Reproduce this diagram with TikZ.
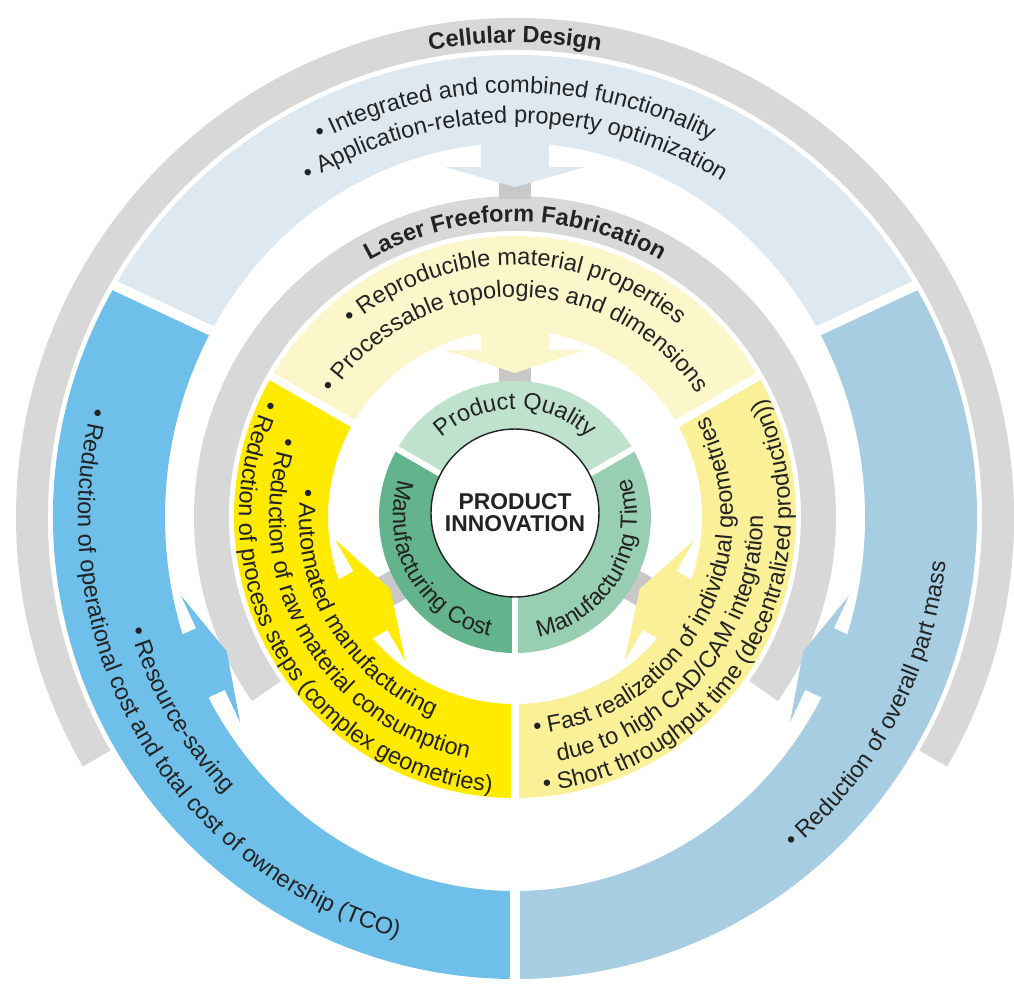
\documentclass[tikz,border=0pt]{standalone}
\usepackage{fontspec}
\setsansfont{Liberation Sans}
\usetikzlibrary{decorations.text}

\definecolor{ringgray}{RGB}{216,216,216}
\definecolor{stemgray}{RGB}{200,200,200}
\definecolor{cellblue}{RGB}{221,232,241}
\definecolor{costblue}{RGB}{110,191,233}
\definecolor{massblue}{RGB}{166,205,226}
\definecolor{paleyellow}{RGB}{252,246,203}
\definecolor{costyellow}{RGB}{255,234,0}
\definecolor{timeyellow}{RGB}{250,240,152}
\definecolor{qualgreen}{RGB}{191,226,206}
\definecolor{costgreen}{RGB}{99,180,141}
\definecolor{timegreen}{RGB}{152,207,178}
\definecolor{inktext}{RGB}{35,35,35}

\newcommand{\ringfont}{\sffamily\fontsize{13.4}{16}\selectfont}
\newcommand{\ringbold}{\sffamily\bfseries\fontsize{13.4}{16}\selectfont}

% #1 colour, #2 from, #3 to, #4 outer radius, #5 inner radius
\newcommand{\ringsector}[5]{%
  \fill[#1] (#2:#4) arc[start angle=#2, end angle=#3, radius=#4]
    -- (#3:#5) arc[start angle=#3, end angle=#2, radius=#5] -- cycle;}
% outer band, its inner edge is a flat oval
\newcommand{\ovalsector}[3]{%
  \fill[#1] (#2:462) arc[start angle=#2, end angle=#3, radius=462]
    -- (#3:350 and 374) arc[start angle=#3, end angle=#2, x radius=350, y radius=374] -- cycle;}

\tikzset{
  every node/.style={font=\sffamily},
  gap line/.style={white, line width=#1},
  hub/.style={circle, draw=inktext, fill=white, line width=0.8pt, inner sep=0pt,
    minimum size=3.36cm, align=center, text=inktext,
    font=\sffamily\bfseries\fontsize{13}{12.5}\selectfont},
  ring text/.style={decorate, decoration={text along path, text align=center,
      text color=inktext, text={|\ringfont|#1}}},
  ring title/.style={decorate, decoration={text along path, text align=center,
      text color=inktext, text={|\ringbold|#1}}},
  ring text left/.style={decorate, decoration={text along path, text align=left,
      text color=inktext, text={|\ringfont|#1}}}
}

\begin{document}
\begin{tikzpicture}[x=0.02cm, y=0.02cm]
  \useasboundingbox (-515,-468) rectangle (499,517);

  \ringsector{ringgray}{-30}{210}{499}{467}
  \ringsector{ringgray}{-35}{215}{321}{286}

  \ovalsector{cellblue}{30}{150}
  \ovalsector{costblue}{150}{270}
  \ovalsector{massblue}{270}{390}

  \ringsector{paleyellow}{30}{150}{281}{187}
  \ringsector{costyellow}{150}{270}{281}{187}
  \ringsector{timeyellow}{270}{390}{281}{187}

  \foreach \a/\r in {90/318, 90/130, 210/130, 330/130}
    \fill[stemgray, rotate=\a] (\r,-16) -- (\r+22,-16) -- (\r+22,16) -- (\r,16) -- cycle;

  \ringsector{qualgreen}{30}{150}{136}{80}
  \ringsector{costgreen}{150}{270}{136}{80}
  \ringsector{timegreen}{270}{390}{136}{80}

  \foreach \a in {30,150,270} {
    \draw[gap line=0.2cm] (\a:465) -- (\a:340 and 364);
    \draw[gap line=0.16cm] (\a:183) -- (\a:284);
    \draw[gap line=0.12cm] (\a:78) -- (\a:139);
  }

  \foreach \a/\rt/\rb/\rp/\c in {90/380/350/330/cellblue, 205/362/336/318/costblue,
      335/362/336/318/massblue, 90/195/167/144/paleyellow,
      210/195/167/144/costyellow, 330/195/167/144/timeyellow}
    \fill[\c, rotate=\a] (\rt,34) -- (\rb,34) -- (\rb,70) -- (\rp,0)
      -- (\rb,-70) -- (\rb,-34) -- (\rt,-34) -- cycle;

  \node[hub] (core) at (0,4) {PRODUCT\\INNOVATION};

  % top sectors, read left to right
  \path[ring title={Cellular Design}] (150:474) arc[start angle=150, end angle=30, radius=474];
  \path[ring text={• Integrated and combined functionality}] (150:424) arc[start angle=150, end angle=30, radius=424];
  \path[ring text={• Application-related property optimization}] (150:394) arc[start angle=150, end angle=30, radius=394];
  \path[ring title={Laser Freeform Fabrication}] (150:295) arc[start angle=150, end angle=30, radius=295];
  \path[ring text={• Reproducible material properties}] (150:252) arc[start angle=150, end angle=30, radius=252];
  \path[ring text={• Processable topologies and dimensions}] (150:220) arc[start angle=150, end angle=30, radius=220];
  \path[ring text={Product Quality}] (150:108) arc[start angle=150, end angle=30, radius=108];

  % left sectors, read downwards
  \path[ring text={• Reduction of operational cost and total cost of ownership (TCO)}] (150:437) arc[start angle=150, end angle=270, radius=437];
  \path[ring text={• Resource-saving}] (150:401) arc[start angle=150, end angle=270, radius=401];
  \path[ring text={• Reduction of process steps (complex geometries)}] (150:276) arc[start angle=150, end angle=270, radius=276];
  \path[ring text={• Reduction of raw material consumption}] (150:246) arc[start angle=150, end angle=270, radius=246];
  \path[ring text={• Automated manufacturing}] (150:216) arc[start angle=150, end angle=270, radius=216];
  \path[ring text={Manufacturing Cost}] (150:122) arc[start angle=150, end angle=270, radius=122];

  % right sectors, read upwards
  \path[ring text={• Reduction of overall part mass}] (272:433) arc[start angle=272, end angle=392, radius=433];
  \path[ring text left={• Short throughput time (decentralized production))}] (276:276) arc[start angle=276, end angle=400, radius=276];
  \path[ring text left={due to high CAD/CAM integration}] (280:248) arc[start angle=280, end angle=400, radius=248];
  \path[ring text left={• Fast realization of individual geometries}] (275:218) arc[start angle=275, end angle=400, radius=218];
  \path[ring text={Manufacturing Time}] (270:122) arc[start angle=270, end angle=390, radius=122];
\end{tikzpicture}
\end{document}
